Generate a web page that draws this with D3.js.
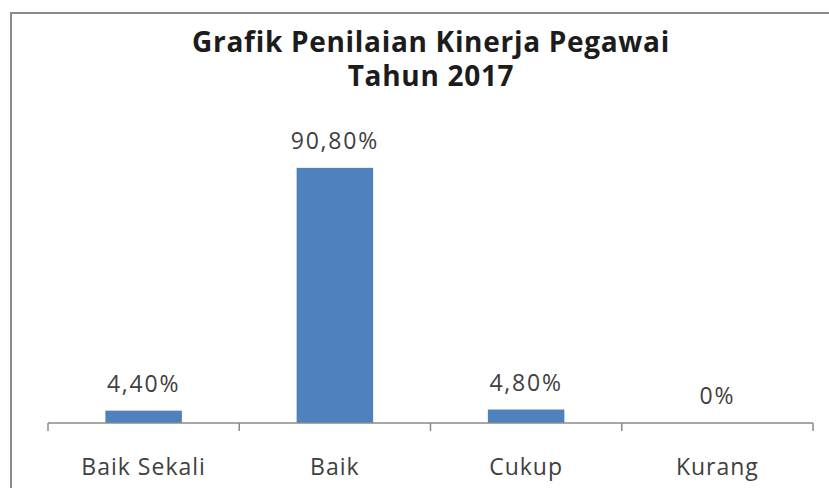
<!DOCTYPE html>
<html>
<head>
<meta charset="utf-8">
<script src="https://cdn.jsdelivr.net/npm/d3@7"></script>
<style>
  html, body { margin: 0; padding: 0; background: #fff; }
  svg { display: block; }
</style>
</head>
<body>
<svg id="chart" width="829" height="488"></svg>
<script>
// Performance rating distribution, 2017
const categories = ["Baik Sekali", "Baik", "Cukup", "Kurang"];
const values = [4.4, 90.8, 4.8, 0];
const valueLabels = ["4,40%", "90,80%", "4,80%", "0%"];
const titleLines = ["Grafik Penilaian Kinerja Pegawai", "Tahun 2017"];

const W = 829, H = 488;
const svg = d3.select("#chart");
const font = "'Open Sans', 'Noto Sans', sans-serif";

// chart frame
svg.append("rect")
  .attr("x", 11).attr("y", 13)
  .attr("width", W + 10).attr("height", H + 10)
  .attr("fill", "#fff")
  .attr("stroke", "#8a8a8a")
  .attr("stroke-width", 2);

// scales
const plot = { left: 48, right: 813, top: 142, bottom: 423 };
const x = d3.scaleBand()
  .domain(categories)
  .range([plot.left, plot.right])
  .paddingInner(0.6)
  .paddingOuter(0.3);
const y = d3.scaleLinear()
  .domain([0, 100])
  .range([plot.bottom, plot.top]);

// title, two separate lines
svg.append("g")
  .selectAll("text")
  .data(titleLines)
  .join("text")
  .attr("x", 431)
  .attr("y", (d, i) => 52 + i * 34)
  .attr("text-anchor", "middle")
  .attr("font-family", font)
  .attr("font-weight", "bold")
  .attr("font-size", 28)
  .attr("letter-spacing", 0.7)
  .attr("fill", "#1c1c1c")
  .text(d => d);

// bars
svg.append("g")
  .selectAll("rect")
  .data(values)
  .join("rect")
  .attr("x", (d, i) => x(categories[i]))
  .attr("y", d => y(d))
  .attr("width", x.bandwidth())
  .attr("height", d => y(0) - y(d))
  .attr("fill", "#4f81bd");

// value labels
svg.append("g")
  .selectAll("text")
  .data(values)
  .join("text")
  .attr("x", (d, i) => x(categories[i]) + x.bandwidth() / 2)
  .attr("y", d => y(d) - 19)
  .attr("text-anchor", "middle")
  .attr("font-family", font)
  .attr("font-size", 23)
  .attr("letter-spacing", 1.8)
  .attr("fill", "#404040")
  .text((d, i) => valueLabels[i]);

// category axis with ticks at category boundaries
const axisG = svg.append("g").attr("transform", `translate(0,${plot.bottom})`);
axisG.append("line")
  .attr("x1", plot.left).attr("x2", plot.right)
  .attr("y1", 0).attr("y2", 0)
  .attr("stroke", "#8a8a8a").attr("stroke-width", 1.5);
const step = x.step();
const boundaries = d3.range(categories.length + 1).map(i => x(categories[0]) - step * 0.3 + i * step);
axisG.selectAll("line.tick")
  .data(boundaries)
  .join("line")
  .attr("class", "tick")
  .attr("x1", d => d).attr("x2", d => d)
  .attr("y1", 0).attr("y2", 8)
  .attr("stroke", "#8a8a8a").attr("stroke-width", 1.5);
axisG.selectAll("text")
  .data(categories)
  .join("text")
  .attr("x", d => x(d) + x.bandwidth() / 2)
  .attr("y", 52)
  .attr("text-anchor", "middle")
  .attr("font-family", font)
  .attr("font-size", 23)
  .attr("letter-spacing", 1)
  .attr("fill", "#404040")
  .text(d => d);
</script>
</body>
</html>
